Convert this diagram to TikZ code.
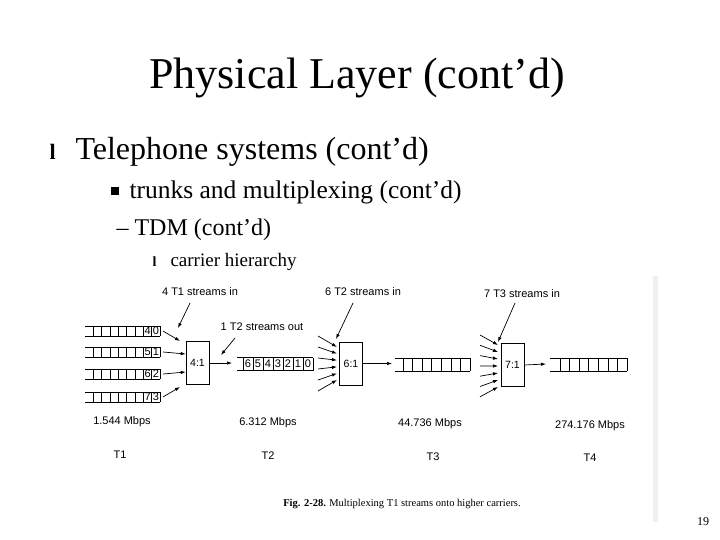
\documentclass[tikz,border=0pt]{standalone}
\usepackage{fontspec}
\setmainfont{Liberation Serif}
\newfontfamily\figsans{Liberation Sans}
\usetikzlibrary{arrows.meta}
\begin{document}
\begin{tikzpicture}[x=1pt,y=-1pt,
  lab/.style={font=\figsans\fontsize{11}{12}\selectfont, inner sep=0pt},
  mux/.style={draw, line width=0.6pt, minimum width=23pt, minimum height=43pt, inner sep=0pt, font=\figsans\fontsize{10.5}{12}\selectfont},
  arr/.style={-{Latex[length=5pt,width=3.5pt]}, line width=0.7pt},
  q/.style={line width=0.6pt}]
\useasboundingbox (0,0) rectangle (720,540);
\fill[white] (0,0) rectangle (720,540);
\fill[gray!12] (653,276) rectangle (658,522);
% slide text
\node[font=\fontsize{44}{48}\selectfont] (title) at (357,78) {Physical Layer (cont’d)};
\node[anchor=west,font=\bfseries\fontsize{22}{24}\selectfont] (b1) at (46,152) {l};
\node[anchor=west,font=\fontsize{32}{36}\selectfont] (t1) at (72,152) {Telephone systems (cont’d)};
\fill (111,187) rectangle (119,195);
\node[anchor=west,font=\fontsize{25.5}{28}\selectfont] (t2) at (126,192) {trunks and multiplexing (cont’d)};
\node[anchor=west,font=\fontsize{24}{28}\selectfont] (t3) at (113,230) {– TDM (cont’d)};
\node[anchor=west,font=\bfseries\fontsize{14}{16}\selectfont] (b4) at (149,262) {l};
\node[anchor=west,font=\fontsize{19}{22}\selectfont] (t4) at (167,262) {carrier hierarchy};
\node[font=\fontsize{12}{14}\selectfont] (pg) at (703,522) {19};
% boxes
\node[mux] (m4) at (197.5,363) {4:1};
\node[mux] (m6) at (351,363.5) {6:1};
\node[mux] (m7) at (512.5,365) {7:1};
% T1 queues
\foreach \y/\a/\b [count=\i] in {331/4/0,352/5/1,374/6/2,397/7/3}{
  \draw[q] (85,\y-5) -- (160,\y-5) (85,\y+5) -- (160,\y+5);
  \foreach \k in {0,...,8} \draw[q] (93.3+\k*8.34,\y-5) -- (93.3+\k*8.34,\y+5);
  \node[lab] at (147.6,\y) {\a};
  \node[lab] at (155.9,\y) {\b};
  \coordinate (q\i) at (163,\y);
}
\draw[arr] (q1) -- (180,341);
\draw[arr] (q2) -- (m4.west |- 0,354);
\draw[arr] (q3) -- (m4.west |- 0,372);
\draw[arr] (q4) -- (180,387);
\node[lab] (l41) at (200,292) {4 T1 streams in};
\draw[arr] (190,303) -- (178,328);
% T2 queue
\draw[arr] (m4.east) -- (232,363);
\node[lab] (l12) at (262,327) {1 T2 streams out};
\draw[arr] (235,338) -- (221,355);
\draw[q] (237,357.5) -- (313,357.5) (237,370.5) -- (313,370.5);
\foreach \k in {0,...,7} \draw[q] (243+\k*10,357.5) -- (243+\k*10,370.5);
\foreach \d [count=\k from 0] in {6,5,4,3,2,1,0} \node[lab] at (248+\k*10,364) {\d};
% 6 T2 in
\node[lab] (l62) at (363,292) {6 T2 streams in};
\draw[arr] (353,303) -- (336,339);
\foreach \k in {0,...,5} \draw[arr] (318,336+\k*11) -- (337,347+\k*6.6);
% T3 queue
\draw[arr] (m6.east) -- (392,363.5);
\draw[q] (395,358) -- (470,358) (395,371) -- (470,371);
\foreach \k in {0,...,7} \draw[q] (403+\k*9.57,358) -- (403+\k*9.57,371);
% 7 T3 in
\node[lab] (l73) at (522,294) {7 T3 streams in};
\draw[arr] (515,303) -- (498,342);
\foreach \k in {0,...,6} \draw[arr] (480,335+\k*10.3) -- (498,345+\k*7);
% T4 queue
\draw[arr] (m7.east) -- (546,364);
\draw[q] (550,358) -- (627,358) (550,371) -- (627,371);
\foreach \k in {0,...,7} \draw[q] (560+\k*9.57,358) -- (560+\k*9.57,371);
% rates and labels
\node[lab] (r1) at (122,422) {1.544 Mbps};
\node[lab] (r2) at (268,423) {6.312 Mbps};
\node[lab] (r3) at (430,424) {44.736 Mbps};
\node[lab] (r4) at (590,426) {274.176 Mbps};
\node[lab] (n1) at (120,455) {T1};
\node[lab] (n2) at (268,456) {T2};
\node[lab] (n3) at (433,457) {T3};
\node[lab] (n4) at (590,458) {T4};
\node[font=\fontsize{10.5}{12}\selectfont] (cap) at (402,504) {\textbf{Fig. 2-28.} Multiplexing T1 streams onto higher carriers.};
\end{tikzpicture}
\end{document}
